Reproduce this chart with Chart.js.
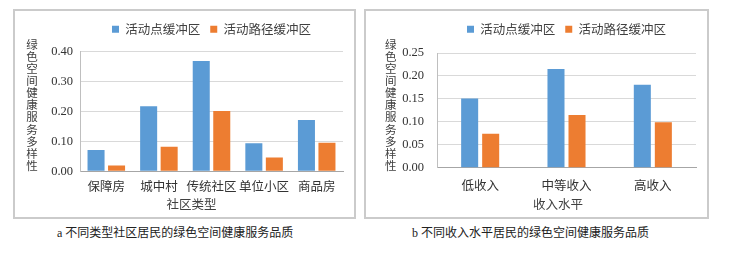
<!DOCTYPE html>
<html>
<head>
<meta charset="utf-8">
<script src="https://cdn.jsdelivr.net/npm/chart.js@4/dist/chart.umd.min.js"></script>
<style>
  html, body { margin: 0; padding: 0; background: #fff; }
  body { width: 733px; height: 257px; position: relative; overflow: hidden; }
  .box { position: absolute; border: 2px solid #cbcbcb; box-sizing: border-box; }
  .box canvas { position: absolute; left: 0; top: 0; }
  .caption {
    position: absolute; top: 223px; font-size: 12px; color: #222;
    font-family: "Liberation Serif", "Noto Sans CJK SC", serif; white-space: nowrap;
  }
</style>
</head>
<body>
<div class="box" style="left:13px; top:9px; width:343px; height:210px;">
  <canvas id="chart-a" width="339" height="206"></canvas>
</div>
<div class="box" style="left:364px; top:9px; width:345px; height:210px;">
  <canvas id="chart-b" width="341" height="206"></canvas>
</div>
<div class="caption" style="left:57px;">a 不同类型社区居民的绿色空间健康服务品质</div>
<div class="caption" style="left:412px;">b 不同收入水平居民的绿色空间健康服务品质</div>

<script>
// ---- данные ----
const seriesNames = ["活动点缓冲区", "活动路径缓冲区"];
const seriesColors = ["#5b9bd5", "#ed7d31"];
const yTitle = "绿色空间健康服务多样性";

// a: по типам районов
const communityTypes = ["保障房", "城中村", "传统社区", "单位小区", "商品房"];
const communityPoint = [0.071, 0.217, 0.368, 0.094, 0.171];
const communityPath = [0.019, 0.082, 0.201, 0.046, 0.095];

// b: по уровню дохода
const incomeLevels = ["低收入", "中等收入", "高收入"];
const incomePoint = [0.151, 0.215, 0.181];
const incomePath = [0.074, 0.115, 0.099];

const CJK = '"Noto Sans CJK SC", sans-serif';
const SERIF = '"Liberation Serif", serif';

// вертикальная подпись оси Y (иероглифы столбиком) и подпись оси X
function axisTitlesPlugin(yX, xTitle, xX, xY) {
  return {
    id: "axisTitles",
    afterDraw(chart) {
      const { ctx } = chart;
      ctx.save();
      ctx.fillStyle = "#404040";
      ctx.font = "11.5px " + CJK;
      ctx.textAlign = "center";
      ctx.textBaseline = "middle";
      Array.from(yTitle).forEach((ch, i) => ctx.fillText(ch, yX, 33.5 + i * 12.1));
      ctx.font = "12.5px " + CJK;
      ctx.fillText(xTitle, xX, xY);
      ctx.restore();
    },
  };
}

// добавочный отступ под легендой
function legendGapPlugin(extra) {
  return {
    id: "legendGap",
    beforeLayout(chart) {
      const lg = chart.legend;
      if (lg && !lg._gapPatched) {
        const fit = lg.fit.bind(lg);
        lg.fit = function () {
          fit();
          this.height += extra;
        };
        lg._gapPatched = true;
      }
    },
  };
}

function makeChart(id, labels, a, b, opts) {
  const ctx = document.getElementById(id).getContext("2d");
  return new Chart(ctx, {
    type: "bar",
    data: {
      labels: labels,
      datasets: [
        { label: seriesNames[0], data: a, backgroundColor: seriesColors[0] },
        { label: seriesNames[1], data: b, backgroundColor: seriesColors[1] },
      ],
    },
    options: {
      responsive: false,
      animation: false,
      barPercentage: opts.barPct,
      categoryPercentage: opts.catPct,
      layout: { padding: opts.padding },
      plugins: {
        tooltip: { enabled: false },
        legend: {
          position: "top",
          fullSize: false,
          labels: {
            boxWidth: 7,
            boxHeight: 7,
            padding: 10,
            color: "#404040",
            font: { family: CJK, size: 12.5 },
          },
        },
      },
      scales: {
        x: {
          grid: { display: false, drawTicks: false },
          border: { color: "#a6a6a6", width: 1 },
          ticks: {
            color: "#333",
            padding: opts.xPad,
            maxRotation: 0,
            minRotation: 0,
            autoSkip: false,
            font: { family: CJK, size: 12.5 },
          },
          afterFit(scale) { scale.height = opts.xHeight; },
        },
        y: {
          min: 0,
          max: opts.yMax,
          grid: { color: "#d9d9d9", drawTicks: false },
          border: { color: "#bfbfbf", width: 1 },
          ticks: {
            stepSize: opts.step,
            padding: opts.yPad,
            color: "#333",
            font: { family: SERIF, size: 12.5 },
            callback: (v) => Number(v).toFixed(2),
          },
          afterFit(scale) { scale.width = opts.yWidth; },
        },
      },
    },
    plugins: [
      legendGapPlugin(opts.legendExtra),
      axisTitlesPlugin(opts.yTitleX, opts.xTitle, opts.xTitleX, 193),
    ],
  });
}

makeChart("chart-a", communityTypes, communityPoint, communityPath, {
  barPct: 0.83, catPct: 0.78,
  padding: { left: 30, right: 11, top: 2, bottom: 0 },
  yWidth: 35, yPad: 7, xPad: 7, xHeight: 45.7,
  yMax: 0.4, step: 0.1, legendExtra: 6,
  yTitleX: 17, xTitle: "社区类型", xTitleX: 176.5,
});

makeChart("chart-b", incomeLevels, incomePoint, incomePath, {
  barPct: 0.81, catPct: 0.487,
  padding: { left: 36, right: 11, top: 2, bottom: 0 },
  yWidth: 35, yPad: 13, xPad: 10, xHeight: 49.3,
  yMax: 0.25, step: 0.05, legendExtra: 7.5,
  yTitleX: 24.8, xTitle: "收入水平", xTitleX: 192,
});
</script>
</body>
</html>
